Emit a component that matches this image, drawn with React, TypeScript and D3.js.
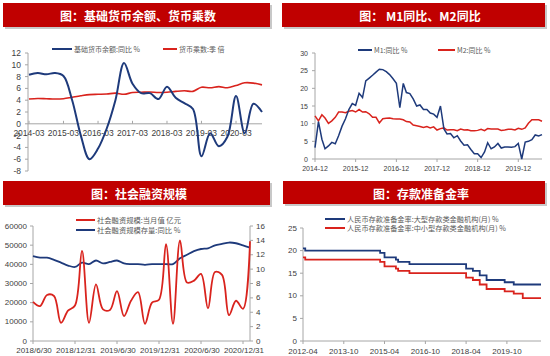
import React from 'react';
import * as d3 from 'd3';

const NUM = '"Liberation Sans", Arial, sans-serif';
const CJK = '"Noto Sans CJK SC", "Noto Sans", sans-serif';
const RED = '#D9231D';
const BLUE = '#1E3A7B';
const AXIS = '#A6A6A6';
const TXT = '#404040';
const BAR = '#C00000';

// ---------- Panel 1: 基础货币余额、货币乘数 (quarterly) ----------
const p1Quarters = [
  '2014-03', '2014-06', '2014-09', '2014-12', '2015-03', '2015-06', '2015-09', '2015-12',
  '2016-03', '2016-06', '2016-09', '2016-12', '2017-03', '2017-06', '2017-09', '2017-12',
  '2018-03', '2018-06', '2018-09', '2018-12', '2019-03', '2019-06', '2019-09', '2019-12',
  '2020-03', '2020-06', '2020-09', '2020-12',
];
const p1Base = [8.3, 8.6, 8.4, 8.6, 8.1, 4.0, -2.0, -6.0, -4.2, -0.8, 4.0, 10.3, 6.8, 5.2, 5.2, 4.2,
  6.3, 4.4, 3.5, 2.5, -5.5, -1.6, -3.8, -2.2, 4.7, -1.6, 3.4, 2.0];
const p1Mult = [4.2, 4.3, 4.25, 4.2, 4.25, 4.5, 4.75, 4.95, 5.0, 5.05, 5.2, 5.0, 5.3, 5.35, 5.4, 5.3,
  5.35, 5.5, 5.6, 5.5, 6.2, 6.1, 6.3, 6.1, 6.5, 6.95, 6.9, 6.6];
const p1XTicks = ['2014-03', '2015-03', '2016-03', '2017-03', '2018-03', '2019-03', '2020-03'];
const p1YTicks = [12, 10, 8, 6, 4, 2, 0, -2, -4, -6, -8];

// ---------- Panel 2: M1同比、M2同比 (monthly from 2014-12) ----------
const p2Start = '2014-12';
const p2M1 = [3.2, 10.6, 5.6, 2.9, 3.7, 4.7, 4.3, 6.6, 9.3, 11.4, 14.0, 15.7, 15.2,
  18.6, 17.4, 22.1, 22.9, 23.7, 24.6, 25.4, 25.3, 24.7, 23.9, 22.7, 21.4,
  14.5, 21.4, 18.8, 18.5, 17.0, 15.0, 15.3, 14.0, 14.0, 13.0, 12.7, 11.8,
  15.0, 8.5, 7.1, 7.2, 6.0, 6.6, 5.1, 3.9, 4.0, 2.7, 1.5, 1.5,
  0.4, 2.0, 4.6, 2.9, 3.4, 4.4, 3.1, 3.4, 3.4, 3.3, 3.5, 4.4,
  0.0, 4.8, 5.0, 5.5, 6.8, 6.5, 6.9];
const p2M2 = [12.2, 10.8, 12.5, 11.6, 10.1, 10.8, 11.8, 13.3, 13.3, 13.1, 13.5, 13.7, 13.3,
  14.0, 13.3, 13.4, 12.8, 11.8, 11.8, 10.2, 11.4, 11.5, 11.6, 11.4, 11.3,
  11.3, 11.1, 10.6, 10.5, 9.6, 9.4, 9.2, 8.9, 9.2, 8.8, 9.1, 8.2,
  8.6, 8.8, 8.2, 8.3, 8.3, 8.0, 8.5, 8.2, 8.3, 8.0, 8.0, 8.1,
  8.4, 8.0, 8.6, 8.5, 8.5, 8.5, 8.1, 8.2, 8.4, 8.4, 8.2, 8.7,
  8.4, 8.8, 10.1, 11.1, 11.1, 11.1, 10.7];
const p2XTicks = ['2014-12', '2015-12', '2016-12', '2017-12', '2018-12', '2019-12'];
const p2YTicks = [0, 5, 10, 15, 20, 25, 30];

// ---------- Panel 3: 社会融资规模 (monthly from 2018-06) ----------
const p3Start = '2018-06';
const p3Flow = [20400, 18200, 24000, 23500, 9500, 15800, 18500, 47000, 9500, 29500, 16500, 16200,
  26000, 13000, 21000, 25500, 9000, 20000, 21500, 50500, 9000, 52500, 30500, 31500,
  35000, 17000, 36000, 34500, 13500, 21000, 16800, 52000];
const p3Stock = [11.8, 11.6, 11.6, 11.3, 10.9, 10.5, 10.3, 10.9, 10.7, 11.2, 10.8, 11.0,
  11.2, 10.8, 10.7, 10.7, 10.6, 10.7, 10.7, 10.7, 10.7, 11.5, 12.0, 12.5,
  12.8, 12.9, 13.3, 13.5, 13.7, 13.6, 13.3, 13.0];
const p3XTicks = ['2018/6/30', '2018/12/31', '2019/6/30', '2019/12/31', '2020/6/30', '2020/12/31'];
const p3XTickIdx = [0, 6, 12, 18, 24, 30];
const p3LeftTicks = [0, 10000, 20000, 30000, 40000, 50000, 60000];
const p3RightTicks = [0, 2, 4, 6, 8, 10, 12, 14, 16];

// ---------- Panel 4: 存款准备金率 (change points) ----------
const p4Dates = ['2012-04', '2012-05', '2015-02', '2015-04', '2015-09', '2015-10', '2016-03',
  '2018-04', '2018-07', '2018-10', '2019-01', '2019-09', '2020-01', '2020-05', '2021-01'];
const p4Large = [20.5, 20.0, 19.5, 18.5, 18.0, 17.5, 17.0, 16.0, 15.5, 14.5, 13.5, 13.0, 12.5, 12.5, 12.5];
const p4Small = [18.5, 18.0, 17.5, 16.5, 16.0, 15.5, 15.0, 14.0, 13.5, 12.5, 11.5, 11.0, 10.5, 9.5, 9.5];
const p4XTicks = ['2012-04', '2013-10', '2015-04', '2016-10', '2018-04', '2019-10'];
const p4YTicks = [0, 5, 10, 15, 20, 25];

const parseM = d3.timeParse('%Y-%m');

function TitleBar({ x, y, w, h, cx, text }: any) {
  return (
    <g>
      <rect x={x + 2} y={y + 2} width={w} height={h} fill="#C8C8C8" />
      <rect x={x} y={y} width={w} height={h} fill={BAR} />
      <text x={cx} y={y + h / 2 + 0.5} textAnchor="middle" dominantBaseline="central"
        fill="#fff" fontWeight="bold" fontSize={12} fontFamily={CJK}>{text}</text>
    </g>
  );
}

function LegendItem({ x1, x2, y, color, text, fs = 7 }: any) {
  return (
    <g>
      <line x1={x1} x2={x2} y1={y} y2={y} stroke={color} strokeWidth={2} />
      <text x={x2 + 2} y={y} dominantBaseline="central" fontSize={fs} fontFamily={CJK} fill="#595959">{text}</text>
    </g>
  );
}

function Panel1() {
  const dates = p1Quarters.map((q) => parseM(q)!);
  const x = d3.scaleTime().domain([dates[0], dates[dates.length - 1]]).range([29, 262]);
  const y = d3.scaleLinear().domain([-8, 12]).range([171, 53]);
  const curve = d3.curveCatmullRom.alpha(0.5);
  const lineB = d3.line<number>().x((_, i) => x(dates[i])).y((d) => y(d)).curve(curve);
  const axX = 28;
  return (
    <g>
      <TitleBar x={3} y={3} w={267} h={24} cx={138} text="图：基础货币余额、货币乘数" />
      <line x1={axX} x2={axX} y1={y(12)} y2={y(-8)} stroke={AXIS} />
      {p1YTicks.map((t) => (
        <g key={t}>
          <line x1={axX - 3} x2={axX} y1={y(t)} y2={y(t)} stroke={AXIS} />
          <text x={21} y={y(t)} textAnchor="end" dominantBaseline="central" fontSize={8.5} fontFamily={NUM} fill={TXT}>{t}</text>
        </g>
      ))}
      <line x1={axX} x2={262} y1={y(0)} y2={y(0)} stroke={AXIS} />
      {p1XTicks.map((t) => {
        const xx = x(parseM(t)!);
        return (
          <g key={t}>
            <line x1={xx} x2={xx} y1={y(0)} y2={y(0) - 3} stroke={AXIS} />
            <text x={xx} y={y(0) + 9} textAnchor="middle" dominantBaseline="central" fontSize={8.5} fontFamily={NUM} fill={TXT}>{t}</text>
          </g>
        );
      })}
      <path d={lineB(p1Mult) || ''} fill="none" stroke={RED} strokeWidth={1.6} />
      <path d={lineB(p1Base) || ''} fill="none" stroke={BLUE} strokeWidth={2} />
      <LegendItem x1={52} x2={72} y={49} color={BLUE} text="基础货币余额:同比  %" />
      <LegendItem x1={163} x2={177} y={49} color={RED} text="货币乘数:季  倍" />
    </g>
  );
}

function Panel2() {
  const start = parseM(p2Start)!;
  const dates = p2M1.map((_, i) => d3.timeMonth.offset(start, i));
  const x = d3.scaleTime().domain([dates[0], dates[dates.length - 1]]).range([315, 542]);
  const y = d3.scaleLinear().domain([0, 30]).range([159, 53]);
  const line = d3.line<number>().x((_, i) => x(dates[i])).y((d) => y(d));
  const axX = 315;
  return (
    <g>
      <TitleBar x={282} y={3} w={263} h={24} cx={420} text="图： M1同比、M2同比" />
      <line x1={axX} x2={axX} y1={y(30)} y2={y(0)} stroke={AXIS} />
      {p2YTicks.map((t) => (
        <g key={t}>
          <line x1={axX - 3} x2={axX} y1={y(t)} y2={y(t)} stroke={AXIS} />
          <text x={308} y={y(t)} textAnchor="end" dominantBaseline="central" fontSize={7} fontFamily={NUM} fill={TXT}>{t}</text>
        </g>
      ))}
      <line x1={axX} x2={542} y1={y(0)} y2={y(0)} stroke={AXIS} />
      {p2XTicks.map((t) => {
        const xx = x(parseM(t)!);
        return (
          <g key={t}>
            <line x1={xx} x2={xx} y1={y(0)} y2={y(0) + 3} stroke={AXIS} />
            <text x={xx} y={y(0) + 9.5} textAnchor="middle" dominantBaseline="central" fontSize={7} fontFamily={NUM} fill={TXT}>{t}</text>
          </g>
        );
      })}
      <path d={line(p2M2) || ''} fill="none" stroke={RED} strokeWidth={1.5} />
      <path d={line(p2M1) || ''} fill="none" stroke={BLUE} strokeWidth={1.5} />
      <LegendItem x1={358} x2={372} y={50} color={BLUE} text="M1:同比 %" />
      <LegendItem x1={438} x2={455} y={50} color={RED} text="M2:同比 %" />
    </g>
  );
}

function Panel3() {
  const x = d3.scaleLinear().domain([0, p3Flow.length - 1]).range([33, 250]);
  const yL = d3.scaleLinear().domain([0, 60000]).range([341, 226]);
  const yR = d3.scaleLinear().domain([0, 16]).range([341, 226]);
  const curve = d3.curveCatmullRom.alpha(0.5);
  const lineL = d3.line<number>().x((_, i) => x(i)).y((d) => yL(d)).curve(curve);
  const lineR = d3.line<number>().x((_, i) => x(i)).y((d) => yR(d)).curve(curve);
  const axL = 33, axR = 250;
  return (
    <g>
      <TitleBar x={3} y={181} w={267} h={24} cx={139} text="图：社会融资规模" />
      <line x1={axL} x2={axL} y1={226} y2={341} stroke={AXIS} />
      <line x1={axR} x2={axR} y1={226} y2={341} stroke={AXIS} />
      {p3LeftTicks.map((t) => (
        <g key={'l' + t}>
          <line x1={axL - 3} x2={axL} y1={yL(t)} y2={yL(t)} stroke={AXIS} />
          <text x={27} y={yL(t)} textAnchor="end" dominantBaseline="central" fontSize={8} fontFamily={NUM} fill={TXT}>{t}</text>
        </g>
      ))}
      {p3RightTicks.map((t) => (
        <g key={'r' + t}>
          <line x1={axR} x2={axR + 3} y1={yR(t)} y2={yR(t)} stroke={AXIS} />
          <text x={256} y={yR(t)} textAnchor="start" dominantBaseline="central" fontSize={8} fontFamily={NUM} fill={TXT}>{t}</text>
        </g>
      ))}
      <line x1={axL} x2={axR} y1={341} y2={341} stroke={AXIS} />
      {p3XTicks.map((t, k) => {
        const xx = x(p3XTickIdx[k]);
        return (
          <g key={t}>
            <line x1={xx} x2={xx} y1={341} y2={344} stroke={AXIS} />
            <text x={xx + 1} y={350} textAnchor="middle" dominantBaseline="central" fontSize={8} fontFamily={NUM} fill={TXT}>{t}</text>
          </g>
        );
      })}
      <path d={lineR(p3Stock) || ''} fill="none" stroke={BLUE} strokeWidth={1.8} />
      <path d={lineL(p3Flow) || ''} fill="none" stroke={RED} strokeWidth={1.8} />
      <LegendItem x1={76} x2={95} y={220} color={RED} text="社会融资规模:当月值  亿元" fs={7.3} />
      <LegendItem x1={76} x2={95} y={230} color={BLUE} text="社会融资规模存量:同比  %" fs={7.3} />
    </g>
  );
}

function Panel4() {
  const dates = p4Dates.map((d) => parseM(d)!);
  const x = d3.scaleTime().domain([dates[0], dates[dates.length - 1]]).range([303, 541]);
  const y = d3.scaleLinear().domain([0, 25]).range([341, 228]);
  const line = d3.line<number>().x((_, i) => x(dates[i])).y((d) => y(d)).curve(d3.curveStepAfter);
  const axX = 303;
  return (
    <g>
      <TitleBar x={283} y={181} w={262} h={23} cx={421} text="图：存款准备金率" />
      <line x1={axX} x2={axX} y1={228} y2={341} stroke={AXIS} />
      {p4YTicks.map((t) => (
        <g key={t}>
          <line x1={axX - 3} x2={axX} y1={y(t)} y2={y(t)} stroke={AXIS} />
          <text x={297} y={y(t)} textAnchor="end" dominantBaseline="central" fontSize={8} fontFamily={NUM} fill={TXT}>{t}</text>
        </g>
      ))}
      <line x1={axX} x2={541} y1={341} y2={341} stroke={AXIS} />
      {p4XTicks.map((t) => {
        const xx = x(parseM(t)!);
        return (
          <g key={t}>
            <line x1={xx} x2={xx} y1={341} y2={344} stroke={AXIS} />
            <text x={xx} y={351} textAnchor="middle" dominantBaseline="central" fontSize={8} fontFamily={NUM} fill={TXT}>{t}</text>
          </g>
        );
      })}
      <path d={line(p4Small) || ''} fill="none" stroke={RED} strokeWidth={1.8} />
      <path d={line(p4Large) || ''} fill="none" stroke={BLUE} strokeWidth={1.8} />
      <LegendItem x1={325} x2={345} y={219} color={BLUE} text="人民币存款准备金率:大型存款类金融机构(月)  %" fs={7.2} />
      <LegendItem x1={325} x2={345} y={228} color={RED} text="人民币存款准备金率:中小型存款类金融机构(月)  %" fs={7.2} />
    </g>
  );
}

export default function App() {
  return (
    <svg width={550} height={356} style={{ position: 'absolute', left: 0, top: 0, background: '#fff' }}>
      <Panel1 />
      <Panel2 />
      <Panel3 />
      <Panel4 />
    </svg>
  );
}
